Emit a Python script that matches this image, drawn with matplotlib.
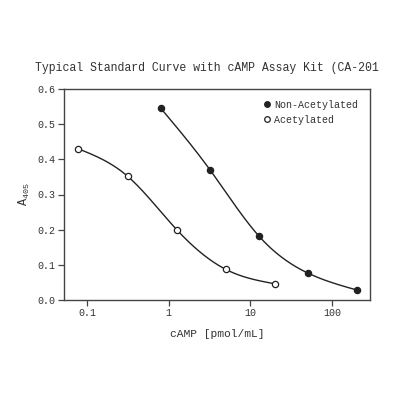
import numpy as np
import matplotlib
matplotlib.use("Agg")
import matplotlib.pyplot as plt

conc_non = [0.8, 3.2, 12.8, 51.2, 204.8]
a405_non = [0.545, 0.370, 0.181, 0.076, 0.028]
conc_ac = [0.078, 0.3125, 1.25, 5.0, 20.0]
a405_ac = [0.430, 0.352, 0.200, 0.087, 0.046]
yticks = [0.0, 0.1, 0.2, 0.3, 0.4, 0.5, 0.6]
xticks = [0.1, 1, 10, 100]
xtick_labels = ["0.1", "1", "10", "100"]

FONT = "Liberation Mono"
plt.rcParams['font.family'] = [FONT, 'DejaVu Sans']
plt.rcParams['mathtext.fontset'] = 'custom'
plt.rcParams['mathtext.rm'] = FONT
plt.rcParams['mathtext.it'] = FONT


def natural_spline(x, y, n=200):
    x = np.asarray(x, float); y = np.asarray(y, float)
    k = len(x)
    h = np.diff(x)
    A = np.zeros((k, k)); b = np.zeros(k)
    A[0, 0] = A[-1, -1] = 1
    for i in range(1, k - 1):
        A[i, i - 1] = h[i - 1]
        A[i, i] = 2 * (h[i - 1] + h[i])
        A[i, i + 1] = h[i]
        b[i] = 3 * ((y[i + 1] - y[i]) / h[i] - (y[i] - y[i - 1]) / h[i - 1])
    c = np.linalg.solve(A, b)
    xs = np.linspace(x[0], x[-1], n)
    ys = np.empty_like(xs)
    for j, xv in enumerate(xs):
        i = min(np.searchsorted(x, xv, side='right') - 1, k - 2)
        i = max(i, 0)
        bi = (y[i + 1] - y[i]) / h[i] - h[i] * (2 * c[i] + c[i + 1]) / 3
        di = (c[i + 1] - c[i]) / (3 * h[i])
        t = xv - x[i]
        ys[j] = y[i] + bi * t + c[i] * t ** 2 + di * t ** 3
    return xs, ys


fig = plt.figure(figsize=(4, 4), dpi=100)
ax = fig.add_axes([0.16, 0.25, 0.765, 0.5275])

col = "#222222"
for cx, cy, fc, lab in [(conc_non, a405_non, col, "Non-Acetylated"),
                        (conc_ac, a405_ac, "white", "Acetylated")]:
    lx, ly = natural_spline(np.log10(cx), cy)
    ax.plot(10 ** lx, ly, color=col, lw=1.0, zorder=2)
    ax.plot(cx, cy, 'o', ms=4.5, mfc=fc, mec=col, mew=0.9, ls='none',
            label=lab, zorder=3)

ax.set_xscale('log')
ax.set_xlim(0.052, 292)
ax.set_ylim(0, 0.6)
ax.set_xticks(xticks)
ax.set_xticklabels(xtick_labels)
ax.minorticks_off()
ax.set_yticks(yticks)
ax.set_yticklabels([f"{v:.1f}" for v in yticks])
ax.tick_params(direction='out', length=4, width=0.9, colors='#444444',
               labelsize=7.2, labelcolor='#333333', pad=2)
for s in ax.spines.values():
    s.set_color('#444444'); s.set_linewidth(1.0)

ax.set_xlabel("cAMP [pmol/mL]", fontsize=8.1, color='#333333', labelpad=8)
ax.set_ylabel(r"A$_{405}$", fontsize=8.6, color='#333333', labelpad=4)

leg = ax.legend(loc='upper right', bbox_to_anchor=(0.974, 0.967), frameon=False,
                fontsize=7.2, handletextpad=0.25, borderaxespad=0.0,
                labelspacing=0.5, handlelength=1.0, markerscale=0.9)
for t in leg.get_texts():
    t.set_color('#333333')

fig.text(35 / 400, 1 - 68 / 400, "Typical Standard Curve with cAMP Assay Kit (CA-201",
         fontsize=8.3, color='#333333', ha='left', va='center')

fig.savefig("out.png", dpi=100)
